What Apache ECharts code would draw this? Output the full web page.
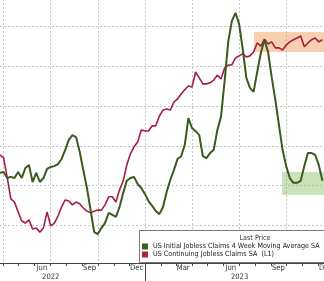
<!DOCTYPE html>
<html><head><meta charset="utf-8">
<script src="https://cdn.jsdelivr.net/npm/echarts@6/dist/echarts.min.js"></script>
<style>html,body{margin:0;padding:0;background:#fff;overflow:hidden}#c{width:324px;height:281px}</style>
</head><body><div id="c"></div>
<script>
// ---- data (weekly, week ending Saturday, starting 2022-03-26) ----
const firstWeek = [2022, 2, 26];
const axisStart = [2022, 2, 26];
const axisEnd = [2023, 11, 20];
// US Initial Jobless Claims 4 Week Moving Average SA (thousands)
const initialClaims = [
  203.2, 203.4, 201.9, 202.2, 201.9, 203.4, 201.9, 204.4, 205.2, 200.9,
  203.2, 200.9, 201.9, 204.2, 204.7, 204.9, 205.4, 206.7, 209.0, 211.5,
  212.7, 212.2, 208.5, 203.9, 199.4, 193.9, 188.3, 187.8, 189.3, 190.6,
  193.1, 192.6, 192.1, 194.6, 198.1, 201.2, 201.9, 202.2, 200.4, 199.4,
  197.9, 196.1, 194.9, 193.6, 192.8, 194.6, 198.4, 201.4, 203.9, 206.7,
  207.4, 210.2, 217.0, 214.5, 213.7, 212.7, 207.4, 206.9, 208.2, 209.0,
  214.0, 217.3, 226.3, 236.2, 241.4, 243.5, 240.7, 234.4, 227.1, 224.6,
  223.6, 228.6, 233.4, 236.7, 233.6, 227.3, 221.6, 215.3, 209.0, 204.9,
  201.9, 200.7, 200.7, 201.2, 204.9, 208.2, 208.2, 207.7, 205.2, 201.2
];
// US Continuing Jobless Claims SA (thousands)
const continuingClaims = [
  1535, 1526, 1469, 1409, 1400, 1372, 1346, 1340, 1349, 1323,
  1326, 1314, 1326, 1372, 1332, 1340, 1360, 1386, 1406, 1403,
  1392, 1400, 1395, 1383, 1374, 1369, 1374, 1377, 1377, 1392,
  1415, 1415, 1400, 1435, 1460, 1506, 1538, 1558, 1572, 1606,
  1603, 1603, 1618, 1618, 1646, 1663, 1666, 1663, 1686, 1695,
  1709, 1721, 1732, 1729, 1772, 1755, 1738, 1738, 1741, 1749,
  1763, 1752, 1783, 1792, 1792, 1812, 1818, 1824, 1815, 1818,
  1829, 1855, 1846, 1866, 1852, 1858, 1841, 1841, 1835, 1849,
  1858, 1864, 1869, 1875, 1844, 1855, 1864, 1869, 1858, 1864
];
const monthNames = ['Jan','Feb','Mar','Apr','May','Jun','Jul','Aug','Sep','Oct','Nov','Dec'];
const seriesNames = ['US Initial Jobless Claims 4 Week Moving Average SA', 'US Continuing Jobless Claims SA  (L1)'];
const orangeBox = { from: '2023-07-30', to: '2023-12-20', low: 1829, high: 1886 };
const greenBox = { from: '2023-09-22', to: '2023-12-20', low: 197.6, high: 203.4 };

// ---- build ----
const DAY = 86400000;
const iso = t => new Date(t).toISOString().slice(0, 10);
const days = [];
for (let t = Date.UTC(...axisStart); t <= Date.UTC(...axisEnd); t += DAY) days.push(iso(t));
const weeks = initialClaims.map((_, k) => iso(Date.UTC(...firstWeek) + 7 * k * DAY));

const FONT = "'Liberation Sans Narrow', 'DejaVu Sans Condensed', 'Liberation Sans', sans-serif";
// fit the condensed text size to the width of the reference legend line
const ctx = document.createElement('canvas').getContext('2d');
ctx.font = '10px ' + FONT;
const w10 = ctx.measureText(seriesNames[0]).width;
const legendSize = Math.min(9, 10 * 167 / w10);
const axisSize = Math.min(9.5, legendSize * 1.06);

const GREEN = '#3b5a1d', RED = '#a51f40';
const dd = v => +v.slice(8, 10), mm = v => +v.slice(5, 7);

const chart = echarts.init(document.getElementById('c'), null, { renderer: 'canvas' });
chart.setOption({
  animation: false,
  backgroundColor: '#fff',
  grid: { left: 0, right: -4.1, top: -13, bottom: 16, containLabel: false, outerBoundsMode: 'none' },
  xAxis: [{
    type: 'category', data: days, boundaryGap: false, position: 'bottom', offset: -2,
    axisLine: { show: true, lineStyle: { color: '#444', width: 1 } },
    axisTick: { show: true, length: 3, interval: (i, v) => dd(v) === 1, lineStyle: { color: '#444' } },
    axisLabel: {
      interval: (i, v) => dd(v) === 15 && mm(v) % 3 === 0,
      formatter: v => monthNames[mm(v) - 1],
      margin: 1, fontSize: axisSize, lineHeight: 9, fontFamily: FONT, color: '#333'
    },
    splitLine: { show: true, interval: (i, v) => dd(v) === 1 && (mm(v) - 1) % 3 === 0,
      lineStyle: { color: '#c4c4c4', type: [2, 2], width: 1 } }
  }, {
    type: 'category', data: days, boundaryGap: false, position: 'bottom', offset: -2,
    axisLine: { show: false },
    axisTick: { show: true, length: 18, interval: (i, v) => v === '2023-01-01', lineStyle: { color: '#444' } },
    axisLabel: {
      interval: (i, v) => v.slice(5) === '07-02',
      formatter: v => v.slice(0, 4),
      margin: 10, fontSize: axisSize, lineHeight: 9, fontFamily: FONT, color: '#333'
    },
    splitLine: { show: false }
  }],
  yAxis: [{
    type: 'value', min: 180, max: 250, interval: 10, position: 'right',
    axisLine: { show: false }, axisTick: { show: false }, axisLabel: { show: false },
    splitLine: { show: true, showMinLine: false, showMaxLine: false,
      lineStyle: { color: '#c4c4c4', type: [2, 2], width: 1 } }
  }, {
    type: 'value', min: 1220, max: 2015, position: 'left',
    axisLine: { show: false }, axisTick: { show: false }, axisLabel: { show: false },
    splitLine: { show: false }
  }],
  legend: {
    orient: 'vertical', left: 142, top: 242.5, padding: 0, itemGap: 0,
    itemWidth: 6, itemHeight: 6, icon: 'rect', selectedMode: false,
    textStyle: { fontSize: legendSize, lineHeight: 8, fontFamily: FONT, color: '#222' },
    data: [
      { name: seriesNames[0], itemStyle: { color: '#3e6020' } },
      { name: seriesNames[1], itemStyle: { color: '#b0203f' } }
    ]
  },
  graphic: [
    { type: 'rect', z: 3, shape: { x: 139.5, y: 230.5, width: 200, height: 32 },
      style: { fill: '#fff', stroke: '#777', lineWidth: 1 } },
    { type: 'text', z: 5, x: 255, y: 238.5,
      style: { text: 'Last Price', fontSize: legendSize, fontFamily: FONT, fill: '#333', align: 'center', verticalAlign: 'middle' } }
  ],
  series: [{
    name: seriesNames[0], type: 'line', xAxisIndex: 0, yAxisIndex: 0,
    data: weeks.map((d, k) => [d, initialClaims[k]]),
    showSymbol: false, symbol: 'none', z: 3,
    lineStyle: { color: GREEN, width: 2 }, itemStyle: { color: GREEN },
    markArea: { silent: true, itemStyle: { color: 'rgba(140,190,100,0.45)' },
      data: [[{ xAxis: greenBox.from, yAxis: greenBox.low }, { xAxis: greenBox.to, yAxis: greenBox.high }]] }
  }, {
    name: seriesNames[1], type: 'line', xAxisIndex: 0, yAxisIndex: 1,
    data: weeks.map((d, k) => [d, continuingClaims[k]]),
    showSymbol: false, symbol: 'none', z: 2,
    lineStyle: { color: RED, width: 1.6 }, itemStyle: { color: RED },
    markArea: { silent: true, itemStyle: { color: 'rgba(240,150,80,0.45)' },
      data: [[{ xAxis: orangeBox.from, yAxis: orangeBox.low }, { xAxis: orangeBox.to, yAxis: orangeBox.high }]] }
  }]
});
</script></body></html>
